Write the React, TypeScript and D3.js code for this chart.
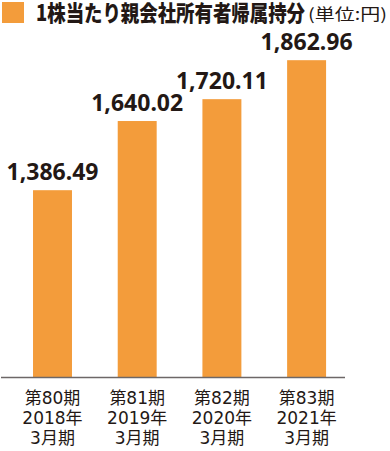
import React from "react";
import * as d3 from "d3";

const periods = ["第80期", "第81期", "第82期", "第83期"];
const years = ["2018年", "2019年", "2020年", "2021年"];
const months = ["3月期", "3月期", "3月期", "3月期"];
const values = [1386.49, 1640.02, 1720.11, 1862.96];
const title = "1株当たり親会社所有者帰属持分";
const unit = "(単位:円)";

const W = 390;
const H = 451;
const ORANGE = "#f39c3b";
const TEXT = "#231815";

export default function App() {
  const x = d3
    .scaleBand<number>()
    .domain(d3.range(values.length))
    .range([10.15, 348.95])
    .paddingInner(0.54)
    .paddingOuter(0.27);
  const y = d3.scaleLinear().domain([700, 2000]).range([377.5, 22.8]);
  const fmt = d3.format(",.2f");
  const bw = x.bandwidth();

  return (
    <svg
      width={W}
      height={H}
      style={{ position: "absolute", left: 0, top: 0, display: "block" }}
    >
      <rect x={2} y={2} width={22} height={21} fill={ORANGE} />
      <text
        x={36}
        y={21}
        fill={TEXT}
        textLength={269}
        lengthAdjust="spacingAndGlyphs"
        style={{
          fontFamily: "'Noto Sans CJK JP', 'Noto Sans', sans-serif",
          fontWeight: 900,
          fontSize: 22,
        }}
      >
        {title}
      </text>
      <text
        x={308}
        y={20}
        fill={TEXT}
        textLength={79}
        lengthAdjust="spacingAndGlyphs"
        style={{
          fontFamily: "'Noto Sans CJK JP', 'Noto Sans', sans-serif",
          fontWeight: 400,
          fontSize: 16,
        }}
      >
        {unit}
      </text>
      {values.map((v, i) => {
        const bx = x(i)!;
        const cx = bx + bw / 2;
        return (
          <g key={i}>
            <rect x={bx} y={y(v)} width={bw} height={y(700) - y(v)} fill={ORANGE} />
            <text
              x={cx}
              y={y(v) - 10}
              textAnchor="middle"
              fill={TEXT}
              style={{ fontFamily: "'Noto Sans', sans-serif", fontWeight: 700, fontSize: 23 }}
            >
              {fmt(v)}
            </text>
            {[periods[i], years[i], months[i]].map((t, j) => (
              <text
                key={j}
                x={cx}
                y={404 + j * 20}
                textAnchor="middle"
                fill={TEXT}
                style={{
                  fontFamily: "'DejaVu Sans', 'Noto Sans CJK JP', sans-serif",
                  fontSize: 17,
                }}
              >
                {t}
              </text>
            ))}
          </g>
        );
      })}
      <line x1={1} x2={345} y1={377.5} y2={377.5} stroke="#6d6767" strokeWidth={1.3} />
    </svg>
  );
}
